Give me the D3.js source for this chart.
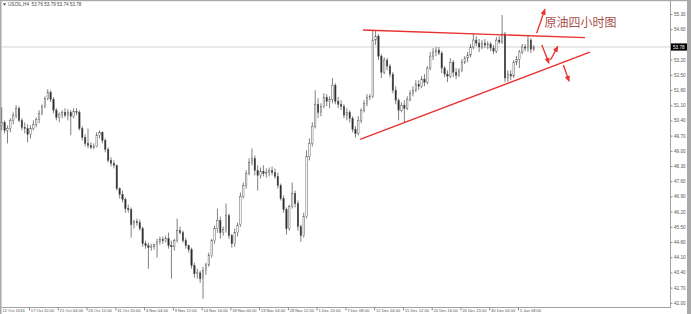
<!DOCTYPE html>
<html>
<head>
<meta charset="utf-8">
<script src="https://cdn.jsdelivr.net/npm/d3@7"></script>
<style>
  html, body { margin: 0; padding: 0; background: #fff; }
  svg { display: block; }
  .ax text { font-family: "Liberation Sans", Arial, sans-serif; font-size: 4.6px; fill: #555; }
  .ax.time text { font-size: 4.1px; }
</style>
</head>
<body>
<svg id="chart" width="691" height="314"></svg>
<script>
// USOIL H4 candles, [open, high, low, close]
const bars = [
  [50.17,51.00,49.94,50.31],[50.31,50.40,49.80,49.94],[49.94,50.17,49.34,50.03],[50.03,50.50,49.85,50.40],
  [50.40,50.77,50.22,50.64],[50.64,51.10,50.50,50.96],[50.96,51.05,50.31,50.40],[50.40,50.50,49.94,50.08],
  [50.08,50.31,49.80,50.03],[50.03,50.22,49.39,49.76],[49.76,50.17,49.57,50.03],[50.03,50.40,49.94,50.22],
  [50.22,50.54,50.08,50.45],[50.45,50.87,50.27,50.73],[50.73,51.14,50.64,51.05],[51.05,51.51,50.96,51.42],
  [51.42,51.84,51.33,51.70],[51.70,51.79,51.24,51.37],[51.37,51.47,50.73,50.87],[50.87,50.96,50.40,50.54],
  [50.54,50.77,50.31,50.68],[50.68,50.87,50.50,50.77],[50.77,50.96,50.54,50.64],[50.64,50.91,50.40,50.77],
  [50.77,50.87,49.71,50.59],[50.59,50.96,50.50,50.82],[50.82,50.96,50.64,50.77],[50.77,50.87,49.94,50.03],
  [50.03,50.13,49.48,49.62],[49.62,49.76,49.20,49.34],[49.34,50.03,49.11,49.25],[49.25,49.39,49.07,49.16],
  [49.16,49.34,49.07,49.20],[49.20,49.85,49.16,49.71],[49.71,49.94,49.57,49.85],[49.85,49.90,49.34,49.48],
  [49.48,49.57,48.93,49.07],[49.07,49.16,48.46,48.56],[48.56,48.70,48.28,48.42],[48.42,48.56,48.19,48.33],
  [48.33,48.37,47.17,47.26],[47.26,47.31,46.80,46.99],[46.99,47.17,46.62,46.76],[46.76,46.85,46.15,46.34],
  [46.34,46.52,46.15,46.29],[46.29,46.39,45.00,45.60],[45.60,45.83,45.42,45.74],[45.74,45.88,45.55,45.69],
  [45.69,45.83,45.32,45.42],[45.42,45.51,44.58,44.72],[44.72,44.86,44.49,44.63],[44.63,44.77,43.57,44.54],
  [44.54,44.72,44.40,44.58],[44.58,44.72,44.45,44.68],[44.68,44.95,44.08,44.81],[44.81,45.05,44.68,44.91],
  [44.91,45.05,44.72,44.86],[44.86,45.09,44.77,44.95],[44.95,45.23,44.49,44.63],[44.63,44.86,43.11,44.58],
  [44.58,44.95,44.40,44.86],[44.86,45.88,44.77,45.32],[45.32,45.51,45.14,45.23],[45.23,45.32,44.77,44.86],
  [44.86,45.00,44.49,44.63],[44.63,44.68,44.31,44.45],[44.45,44.54,43.57,43.71],[43.71,43.85,43.15,43.34],
  [43.34,43.57,43.11,43.38],[43.38,43.48,42.92,43.11],[43.11,43.66,42.18,43.48],[43.48,43.85,43.29,43.75],
  [43.75,44.31,43.66,44.17],[44.17,44.95,44.08,44.86],[44.86,45.55,44.72,45.42],[45.42,46.34,45.23,45.79],
  [45.79,45.97,44.95,45.23],[45.23,45.51,45.09,45.37],[45.37,46.57,45.23,46.02],[46.02,46.11,44.95,45.09],
  [45.09,45.18,44.54,44.72],[44.72,45.42,44.58,45.23],[45.23,45.69,45.05,45.55],[45.60,47.08,45.50,46.89],
  [46.89,47.54,46.80,47.40],[47.40,48.10,47.26,47.96],[47.96,48.65,47.87,48.46],[48.46,49.11,48.33,48.65],
  [48.65,48.79,47.87,48.10],[48.10,48.33,47.17,47.87],[47.87,48.23,47.72,48.05],[48.05,48.33,47.82,47.96],
  [47.96,48.19,47.77,48.00],[48.00,48.23,47.82,48.10],[48.10,48.28,47.87,48.00],[48.00,48.19,47.72,47.82],
  [47.82,48.00,47.26,47.40],[47.40,47.49,46.71,46.80],[46.80,46.94,46.15,46.29],[46.29,46.39,45.14,45.42],
  [45.42,46.52,45.32,46.43],[46.43,47.54,46.34,47.03],[47.03,47.17,46.39,46.57],[46.57,46.71,45.32,45.51],
  [45.51,45.60,44.81,45.09],[45.09,46.15,45.00,45.97],[45.97,49.02,45.88,48.74],[48.74,49.57,48.56,49.34],
  [49.34,50.31,49.20,50.13],[50.13,51.79,50.03,51.14],[51.14,51.42,50.50,50.77],[50.77,51.19,50.59,51.05],
  [51.05,51.65,50.96,51.47],[51.47,51.61,51.05,51.28],[51.28,51.51,50.96,51.37],[51.37,52.35,51.19,52.02],
  [52.02,52.11,51.14,51.28],[51.28,51.47,50.96,51.14],[51.14,51.33,50.87,51.05],[51.05,51.14,50.50,50.64],
  [50.64,50.96,50.40,50.77],[50.77,50.87,50.31,50.50],[50.50,50.59,49.85,49.99],[49.99,50.13,49.62,49.80],
  [49.80,50.59,49.71,50.40],[50.40,50.96,50.27,50.87],[50.87,51.33,50.77,51.19],[51.19,51.61,51.05,51.47],
  [51.47,51.61,51.33,51.51],[51.51,54.56,51.42,54.10],[54.10,54.56,53.87,54.28],[54.28,54.38,53.18,53.36],
  [53.36,53.45,52.35,52.62],[52.62,53.31,52.53,53.18],[53.18,53.27,52.71,52.90],[52.90,52.99,52.39,52.53],
  [52.53,52.62,51.65,51.79],[51.79,51.97,51.14,51.33],[51.33,51.42,50.40,50.87],[50.87,51.24,50.77,51.10],
  [51.10,51.33,50.31,50.96],[50.96,51.51,50.87,51.37],[51.37,51.79,51.28,51.65],[51.65,51.97,51.51,51.79],
  [51.79,52.25,51.70,52.07],[52.07,52.25,51.79,51.97],[51.97,52.44,51.88,52.30],[52.30,52.53,51.97,52.16],
  [52.16,52.90,52.07,52.81],[52.81,53.55,52.71,53.36],[53.36,53.73,53.18,53.55],[53.55,53.78,53.36,53.64],
  [53.64,53.78,53.41,53.50],[53.50,53.59,52.58,52.81],[52.81,52.90,52.39,52.53],[52.53,52.71,52.16,52.44],
  [52.44,53.27,52.35,53.08],[53.08,53.18,52.39,52.62],[52.62,52.81,52.30,52.48],[52.48,52.81,52.39,52.71],
  [52.71,53.22,52.62,53.08],[53.08,53.36,52.99,53.27],[53.27,53.55,53.08,53.41],[53.41,53.92,53.31,53.78],
  [53.78,54.42,53.68,54.10],[54.10,54.28,53.82,53.96],[53.96,54.15,53.55,53.78],[53.78,54.10,53.68,53.96],
  [53.96,54.15,53.73,53.87],[53.87,54.05,53.68,53.92],[53.92,54.01,53.59,53.73],[53.73,53.87,53.45,53.59],
  [53.59,54.24,53.50,54.10],[54.10,54.28,53.92,54.01],[54.01,55.25,53.92,54.38],[54.38,54.47,52.16,52.35],
  [52.35,52.71,52.16,52.53],[52.53,52.71,52.25,52.44],[52.44,53.18,52.35,53.08],[53.08,53.36,52.94,53.22],
  [53.22,53.64,52.81,53.55],[53.55,53.92,53.45,53.78],[53.78,53.92,53.59,53.73],[53.73,54.33,53.55,54.10],
  [54.10,54.19,53.50,53.68],[53.68,53.87,53.59,53.78]
];

const lastPrice = 53.78;
const quote = 'USOIL,H4  53.76 53.79 53.74 53.78';

// price scale labels (53.90 sits under the last-price box)
const priceTicks = [55.30, 54.60, 53.20, 52.50, 51.80, 51.10, 50.40, 49.70, 49.00, 48.30,
  47.60, 46.90, 46.20, 45.50, 44.80, 44.10, 43.40, 42.70, 42.00];

// time scale labels, one every 10 candles
const timeTickIdx = [10, 20, 30, 40, 50, 60, 70, 80, 90, 100, 110, 120, 130, 140, 150, 160, 170, 180];
const timeTickLabels = ['17 Oct 20:00', '21 Oct 04:00', '26 Oct 12:00', '31 Oct 20:00', '4 Nov 04:00',
  '9 Nov 12:00', '14 Nov 16:00', '18 Nov 00:00', '23 Nov 04:00', '28 Nov 12:00', '1 Dec 20:00',
  '7 Dec 08:00', '12 Dec 04:00', '15 Dec 12:00', '20 Dec 16:00', '26 Dec 23:00', '30 Dec 04:00', '5 Jan 08:00'];
const firstLabel = '12 Oct 2016';

// hand-drawn triangle lines: [candle index, price]
const upperLine = [[126.1, 54.56], [203.3, 54.21]];
const lowerLine = [[125.1, 49.53], [205.0, 53.54]];
// arrows: from -> to
const arrows = [
  [[186.5, 54.41], [189.2, 55.45]],
  [[188.3, 53.87], [190.6, 53.10]],
  [[191.3, 53.18], [193.6, 53.74]],
  [[195.8, 52.95], [197.6, 52.27]]
];
const note = {text: '原油四小时图', i: 189.2, p: 54.72};

const W = 691, H = 314;
const axisX = 670.5, axisY = 307.5;

const svg = d3.select('#chart');

const x = d3.scaleLinear().domain([0, 186]).range([0.3, 535.2]); // slot left edges
const y = d3.scaleLinear().domain([42.00, 55.30]).range([302.8, 14]);
const slot = x(1) - x(0);

svg.append('defs').append('marker')
    .attr('id', 'head')
    .attr('viewBox', '0 0 10 10')
    .attr('refX', 6).attr('refY', 5)
    .attr('markerWidth', 5).attr('markerHeight', 5)
    .attr('orient', 'auto')
  .append('path')
    .attr('d', 'M0,1 L10,5 L0,9 Z')
    .attr('fill', '#e8302e');

// window frame
svg.append('rect').attr('width', W).attr('height', H).attr('fill', '#fff');
svg.append('rect').attr('x', 0).attr('y', 0).attr('width', 1.5).attr('height', H).attr('fill', '#a9a9a9');
svg.append('rect').attr('x', 0).attr('y', 0).attr('width', W).attr('height', 1.2).attr('fill', '#a9a9a9');
svg.append('rect').attr('x', 687).attr('y', 0).attr('width', 4).attr('height', H).attr('fill', '#a9a9a9');

// last price line
svg.append('line')
    .attr('x1', 1.5).attr('x2', axisX)
    .attr('y1', y(lastPrice)).attr('y2', y(lastPrice))
    .attr('stroke', '#c8c8c8').attr('stroke-width', 0.8);

// candles
const candle = svg.append('g').selectAll('g')
    .data(bars)
    .join('g')
    .attr('transform', (d, i) => `translate(${x(i + 0.5)},0)`);

candle.append('line')
    .attr('y1', d => y(d[1]))
    .attr('y2', d => y(d[2]))
    .attr('stroke', '#4a4a4a')
    .attr('stroke-width', 0.7);

candle.append('rect')
    .attr('x', -slot * 0.25)
    .attr('width', slot * 0.5)
    .attr('y', d => y(Math.max(d[0], d[3])))
    .attr('height', d => Math.max(0.6, Math.abs(y(d[0]) - y(d[3]))))
    .attr('fill', d => d[3] >= d[0] ? '#fff' : '#2a2a2a')
    .attr('stroke', '#555')
    .attr('stroke-width', 0.45);

// trend lines and arrows
const line = d3.line().x(d => x(d[0])).y(d => y(d[1]));
svg.append('g').selectAll('path')
    .data([upperLine, lowerLine])
    .join('path')
    .attr('d', line)
    .attr('stroke', '#e8302e')
    .attr('stroke-width', 1.4)
    .attr('fill', 'none');

svg.append('g').selectAll('path')
    .data(arrows)
    .join('path')
    .attr('d', line)
    .attr('stroke', '#e8302e')
    .attr('stroke-width', 1.3)
    .attr('fill', 'none')
    .attr('marker-end', 'url(#head)');

svg.append('text')
    .attr('x', x(note.i))
    .attr('y', y(note.p))
    .attr('font-family', '"Noto Sans CJK SC", sans-serif')
    .attr('font-size', 12)
    .attr('fill', '#a8504c')
    .text(note.text);

// price scale
svg.append('line')
    .attr('x1', axisX).attr('x2', axisX).attr('y1', 1).attr('y2', axisY)
    .attr('stroke', '#8a8a8a').attr('stroke-width', 0.8);

const yAxis = svg.append('g')
    .attr('class', 'ax')
    .attr('transform', `translate(${axisX},0)`)
    .call(d3.axisRight(y).tickValues(priceTicks).tickFormat(d3.format('.2f')).tickSize(2).tickPadding(1.5));
yAxis.select('.domain').remove();
yAxis.selectAll('line').attr('stroke', '#8a8a8a');

const priceBox = svg.append('g').attr('transform', `translate(${axisX},${y(lastPrice)})`);
priceBox.append('rect').attr('x', 0.5).attr('y', -3.6).attr('width', 16).attr('height', 7.2).attr('fill', '#000');
priceBox.append('text')
    .attr('x', 2.5).attr('y', 1.7)
    .attr('font-family', '"Liberation Sans", Arial, sans-serif')
    .attr('font-size', 4.6)
    .attr('fill', '#fff')
    .text(d3.format('.2f')(lastPrice));

// time scale
svg.append('line')
    .attr('x1', 1.5).attr('x2', axisX).attr('y1', axisY).attr('y2', axisY)
    .attr('stroke', '#8a8a8a').attr('stroke-width', 0.8);

const xAxis = svg.append('g')
    .attr('class', 'ax time')
    .attr('transform', `translate(0,${axisY})`)
    .call(d3.axisBottom(x).tickValues(timeTickIdx).tickFormat((d, i) => timeTickLabels[i]).tickSize(3));
xAxis.select('.domain').remove();
xAxis.selectAll('line').attr('stroke', '#8a8a8a');
xAxis.selectAll('text')
    .attr('text-anchor', 'start')
    .attr('x', 1.3)
    .attr('y', 1.4)
    .attr('dy', '0.71em');

svg.append('text')
    .attr('x', 2.5).attr('y', axisY + 4.6)
    .attr('font-family', '"Liberation Sans", Arial, sans-serif')
    .attr('font-size', 4.1)
    .attr('fill', '#555')
    .text(firstLabel);

// quote header
svg.append('path')
    .attr('d', 'M3,3.6 L6,3.6 L4.5,5.6 Z')
    .attr('fill', '#222');
svg.append('text')
    .attr('x', 8).attr('y', 6)
    .attr('font-family', '"Liberation Sans", Arial, sans-serif')
    .attr('font-size', 4.6)
    .attr('fill', '#444')
    .attr('xml:space', 'preserve')
    .text(quote);
</script>
</body>
</html>
